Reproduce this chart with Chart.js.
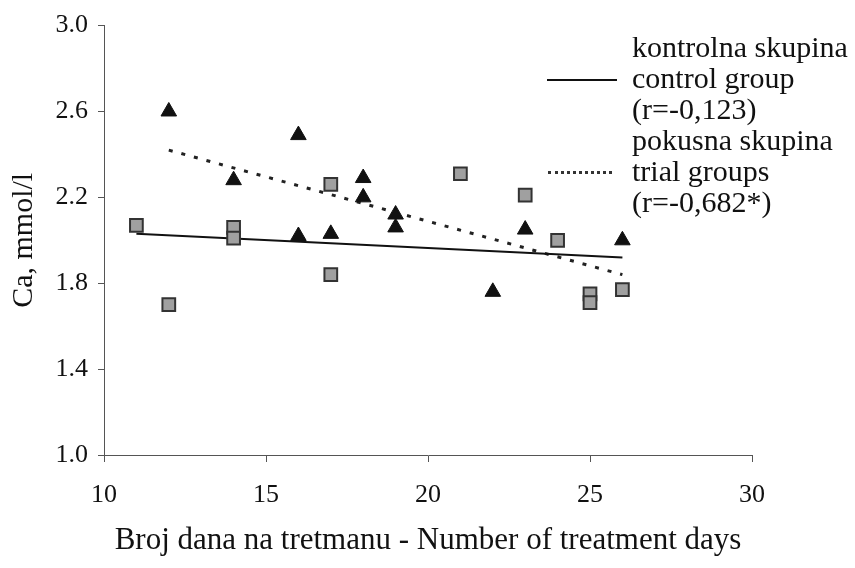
<!DOCTYPE html>
<html lang="hr">
<head>
  <meta charset="UTF-8" />
  <title>Ca vs broj dana na tretmanu</title>
  <script src="https://cdn.jsdelivr.net/npm/chart.js"></script>
  <style>
    html, body { margin: 0; padding: 0; background: #fff; }
    #wrap { position: relative; width: 855px; height: 568px; }
    .leg { position: absolute; font-family: "Liberation Serif", serif; font-size: 30px; color: #111; line-height: 31px; left: 632px; top: 31px; white-space: nowrap; }
    .sample { position: absolute; height: 0; }
  </style>
</head>
<body>
  <div id="wrap">
    <canvas id="chart" width="855" height="568"></canvas>
    <!-- Legend -->
    <div class="leg">
      kontrolna skupina<br />control group<br />(r=-0,123)<br />pokusna skupina<br />trial groups<br />(r=-0,682*)
    </div>
    <div class="sample" style="left:547px; top:79px; width:70px; border-top:2px solid #111;"></div>
    <div class="sample" style="left:548px; top:171px; width:64px; border-top:3px dotted #333;"></div>
  </div>

  <script>
    // Control group (squares)
    const ctrlDays = [11, 12, 14, 14, 17, 17, 21, 23, 24, 25, 25, 26];
    const ctrlCa   = [2.07, 1.70, 2.06, 2.01, 2.26, 1.84, 2.31, 2.21, 2.00, 1.75, 1.71, 1.77];

    // Trial groups (triangles)
    const trialDays = [12, 14, 16, 16, 17, 18, 18, 19, 19, 22, 23, 26];
    const trialCa   = [2.60, 2.28, 2.49, 2.02, 2.03, 2.29, 2.20, 2.12, 2.06, 1.76, 2.05, 2.00];

    // Regression lines (end points)
    const ctrlFitDays  = [11, 26];
    const ctrlFitCa    = [2.03, 1.92];
    const trialFitDays = [12, 26];
    const trialFitCa   = [2.42, 1.84];

    const xTicks = [10, 15, 20, 25, 30];
    const yTicks = [1.0, 1.4, 1.8, 2.2, 2.6, 3.0];

    const pts = (xs, ys) => xs.map((x, i) => ({ x: x, y: ys[i] }));
    const serif = "'Liberation Serif', serif";

    new Chart(document.getElementById('chart'), {
      type: 'scatter',
      data: {
        datasets: [
          {
            label: 'control group',
            data: pts(ctrlDays, ctrlCa),
            pointStyle: 'rect',
            pointRadius: 9,
            backgroundColor: '#a0a0a0',
            borderColor: '#333',
            borderWidth: 2
          },
          {
            label: 'trial groups',
            data: pts(trialDays, trialCa),
            pointStyle: 'triangle',
            pointRadius: 9,
            backgroundColor: '#111',
            borderColor: '#111',
            borderWidth: 1
          },
          {
            type: 'line',
            label: 'control fit',
            data: pts(ctrlFitDays, ctrlFitCa),
            borderColor: '#111',
            borderWidth: 2,
            pointRadius: 0,
            fill: false
          },
          {
            type: 'line',
            label: 'trial fit',
            data: pts(trialFitDays, trialFitCa),
            borderColor: '#222',
            borderWidth: 3,
            borderDash: [4, 9],
            pointRadius: 0,
            fill: false
          }
        ]
      },
      options: {
        responsive: false,
        animation: false,
        layout: { padding: { top: 24, right: 103, bottom: 0, left: 0 } },
        plugins: {
          legend: { display: false },
          tooltip: { enabled: false }
        },
        scales: {
          x: {
            type: 'linear',
            min: 10,
            max: 30,
            afterBuildTicks: (s) => { s.ticks = xTicks.map(v => ({ value: v })); },
            afterFit: (s) => { s.height = 113; },
            border: { display: true, color: '#555', width: 1 },
            grid: { display: true, drawOnChartArea: false, tickLength: 7, color: '#555' },
            ticks: { color: '#111', padding: 18, font: { family: serif, size: 26 } },
            title: {
              display: true,
              text: 'Broj dana na tretmanu - Number of treatment days',
              color: '#111',
              font: { family: serif, size: 31 },
              padding: { top: 0, bottom: 9 }
            }
          },
          y: {
            min: 1.0,
            max: 3.0,
            afterBuildTicks: (s) => { s.ticks = yTicks.map(v => ({ value: v })); },
            afterFit: (s) => { s.width = 104; },
            border: { display: true, color: '#555', width: 1 },
            grid: { display: true, drawOnChartArea: false, tickLength: 6, color: '#555' },
            ticks: {
              color: '#111',
              padding: 10,
              font: { family: serif, size: 26 },
              callback: (v) => Number(v).toFixed(1)
            },
            title: {
              display: true,
              text: 'Ca, mmol/l',
              color: '#111',
              font: { family: serif, size: 30 },
              padding: { top: 6, bottom: 6 }
            }
          }
        }
      }
    });
  </script>
</body>
</html>
